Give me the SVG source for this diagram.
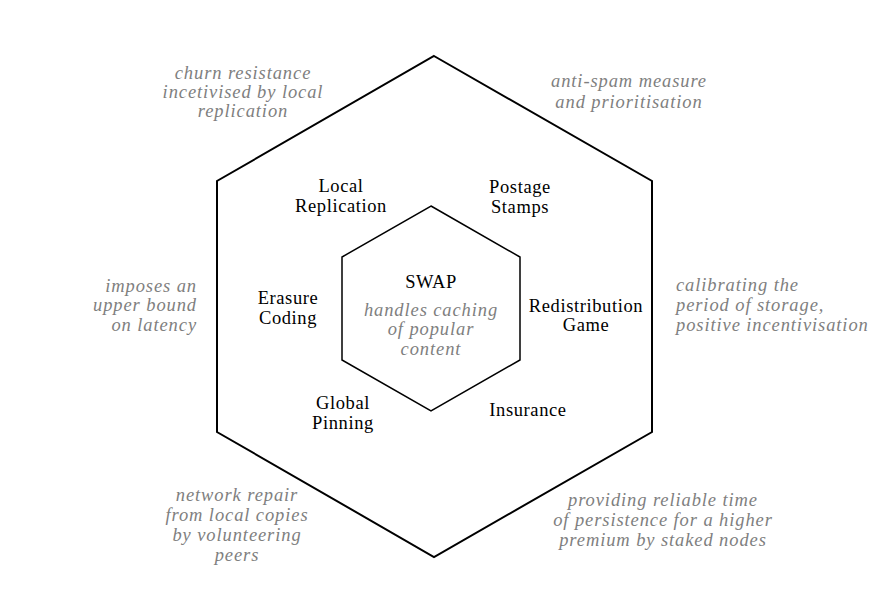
<svg xmlns="http://www.w3.org/2000/svg" width="888" height="604" viewBox="0 0 888 604">
<style>
.r{font-family:"Liberation Serif","Times New Roman",serif;font-size:18.5px;fill:#000;text-anchor:middle;letter-spacing:0.6px}
.i{font-family:"Liberation Serif","Times New Roman",serif;font-size:18.5px;font-style:italic;fill:#7f7f7f;text-anchor:middle;letter-spacing:0.9px}
.s{text-anchor:start}
.e{text-anchor:end}
.hex{fill:none;stroke:#000;stroke-linejoin:miter}
</style>
<rect width="888" height="604" fill="#fff"/>
<g id="connectors">
<polygon id="outer" class="hex" stroke-width="2" points="434,56 652,181 652,432 434,557 217,432 217,181"/>
<polygon id="inner" class="hex" stroke-width="1.5" points="431,206 520,257 520,360 431,411 342,360 342,257"/>
</g>
<g id="swap">
<text class="r" x="431" y="288">SWAP</text>
<text class="i" x="431" y="316">handles caching</text>
<text class="i" x="431" y="335">of popular</text>
<text class="i" x="431" y="355">content</text>
</g>
<g id="local-replication">
<text class="r" x="341" y="192">Local</text>
<text class="r" x="341" y="212">Replication</text>
</g>
<g id="postage-stamps">
<text class="r" x="520" y="193">Postage</text>
<text class="r" x="520" y="213">Stamps</text>
</g>
<g id="erasure-coding">
<text class="r" x="288" y="304">Erasure</text>
<text class="r" x="288" y="324">Coding</text>
</g>
<g id="redistribution-game">
<text class="r" x="586" y="312">Redistribution</text>
<text class="r" x="586" y="331">Game</text>
</g>
<g id="global-pinning">
<text class="r" x="343" y="409">Global</text>
<text class="r" x="343" y="429">Pinning</text>
</g>
<g id="insurance">
<text class="r" x="528" y="416">Insurance</text>
</g>
<g id="note-churn">
<text class="i" x="243" y="79">churn resistance</text>
<text class="i" x="243" y="98">incetivised by local</text>
<text class="i" x="243" y="117">replication</text>
</g>
<g id="note-antispam">
<text class="i" x="629" y="87">anti-spam measure</text>
<text class="i" x="629" y="108">and prioritisation</text>
</g>
<g id="note-latency">
<text class="i e" x="197" y="292">imposes an</text>
<text class="i e" x="197" y="311">upper bound</text>
<text class="i e" x="197" y="331">on latency</text>
</g>
<g id="note-calibrating">
<text class="i s" x="676" y="291">calibrating the</text>
<text class="i s" x="676" y="311">period of storage,</text>
<text class="i s" x="676" y="331">positive incentivisation</text>
</g>
<g id="note-repair">
<text class="i" x="237" y="501">network repair</text>
<text class="i" x="237" y="521">from local copies</text>
<text class="i" x="237" y="541">by volunteering</text>
<text class="i" x="237" y="561">peers</text>
</g>
<g id="note-persistence">
<text class="i" x="663" y="506">providing reliable time</text>
<text class="i" x="663" y="526">of persistence for a higher</text>
<text class="i" x="663" y="546">premium by staked nodes</text>
</g>
</svg>
